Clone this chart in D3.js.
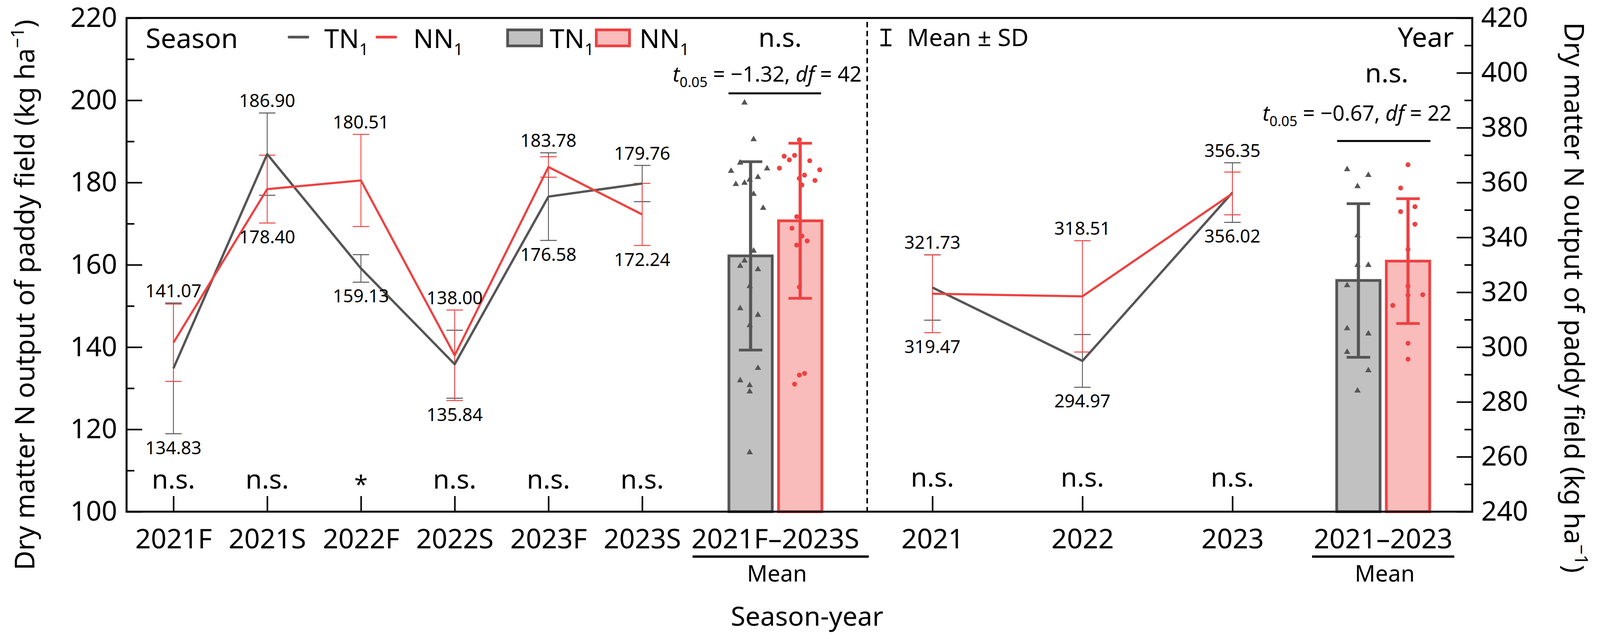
<!DOCTYPE html>
<html><head><meta charset="utf-8">
<script src="https://cdn.jsdelivr.net/npm/d3@7/dist/d3.min.js"></script>
<style>body{margin:0;background:#fff}svg{display:block}text{font-family:"Noto Sans",sans-serif;fill:#000}</style>
</head><body>
<svg id="c" width="4097" height="1636"></svg>
<script>
// ---------- DATA ----------
const seasons = ["2021F","2021S","2022F","2022S","2023F","2023S"];
const seasonTN = [134.83,186.90,159.13,135.84,176.58,179.76];
const seasonNN = [141.07,178.40,180.51,138.00,183.78,172.24];
const seasonTNsd = [15.9,10.0,3.35,8.25,10.65,4.4];
const seasonNNsd = [9.4,8.25,11.2,11.0,2.5,7.55];
const seasonSig = ["n.s.","n.s.","*","n.s.","n.s.","n.s."];

const years = ["2021","2022","2023"];
const yearTN = [321.73,294.97,356.35];
const yearNN = [319.47,318.51,356.02];
const yearTNsd = [11.9,9.6,10.85];
const yearNNsd = [14.2,20.3,7.8];
const yearSig = ["n.s.","n.s.","n.s."];

const treatments = ["TN1","NN1"];
const seasonMeanLabel = "2021F\u20132023S";
const yearMeanLabel = "2021\u20132023";
const seasonMean = [162.17,170.70];
const seasonMeanSD = [22.9,18.85];
const yearMean = [324.3,331.35];
const yearMeanSD = [28.0,22.75];

const seasonTNpts = [199.4,190.5,184.8,182.8,183.4,181.3,179.6,179.9,180.7,177.2,173.8,163.4,161.0,159.7,158.9,154.8,149.4,147.8,145.3,134.9,131.9,130.7,129.2,114.4];
const seasonNNpts = [190.4,186.4,185.5,186.6,185.3,183.5,183.1,181.8,181.0,180.5,179.4,171.7,168.9,167.0,165.8,164.8,154.6,133.2,133.6,131.0];
const yearTNpts = [364.8,362.7,358.6,340.7,329.9,329.9,322.5,306.8,304.9,298.2,291.5,284.1];
const yearNNpts = [366.5,358.0,351.2,349.4,344.8,335.6,322.2,318.9,319.1,315.2,301.4,295.6];

const leftTicks = [100,120,140,160,180,200,220];
const rightTicks = [240,260,280,300,320,340,360,380,400,420];

// ---------- LAYOUT (jitter as fraction of bar width) ----------
const seasonTNjit = [-0.14,0.07,-0.24,-0.45,0.38,0.17,-0.34,-0.14,-0.02,0.07,0.29,0.07,-0.14,-0.24,0.17,-0.02,-0.24,0.17,-0.02,0.17,-0.24,-0.02,-0.02,-0.02];
const seasonNNjit = [-0.02,-0.37,-0.25,-0.13,0.22,-0.48,0.45,0.10,-0.02,0.34,0.04,-0.08,-0.19,0.04,0.16,-0.08,-0.02,-0.02,0.10,-0.13];
const yearTNjit = [-0.26,0.23,-0.02,-0.02,-0.02,0.23,-0.26,-0.26,0.23,-0.26,0.23,-0.02];
const yearNNjit = [0,-0.17,0.16,-0.17,0.16,0,0,0,0.34,-0.35,0,0];

const L=324, R=3769, T=46, B=1310;
const GRAY="#555555", RED="#EE4141", GRAYFILL="#C1C1C1", REDFILL="#FABBBB";

const svg = d3.select("#c");
const yL = d3.scaleLinear([100,220],[B,T]);
const yR = d3.scaleLinear([240,420],[B,T]);
const xS = d3.scalePoint(seasons,[444,1644]);
const xY = d3.scalePoint(years,[2387,3155]);
const meanSeasonX = 1985, meanYearX = 3541;
const bandS = d3.scaleBand(treatments,[meanSeasonX-127,meanSeasonX+127]).paddingInner(0.126).paddingOuter(0.063);
const bandY = d3.scaleBand(treatments,[meanYearX-127,meanYearX+127]).paddingInner(0.126).paddingOuter(0.063);

// ---------- AXES ----------
function styleAxis(g){g.select(".domain").remove();g.selectAll("line").attr("stroke","#000").attr("stroke-width",4);
  g.selectAll("text").attr("font-size",70).style("font-family","'Noto Sans',sans-serif");}
svg.append("g").attr("transform",`translate(${L},0)`)
  .call(d3.axisLeft(yL).tickValues(leftTicks).tickSize(-40).tickPadding(24).tickFormat(d3.format("d"))).call(styleAxis);
svg.append("g").attr("transform",`translate(${L},0)`)
  .call(d3.axisLeft(yL).tickValues(d3.range(110,220,20)).tickSize(-20).tickFormat("")).call(styleAxis);
svg.append("g").attr("transform",`translate(${R},0)`)
  .call(d3.axisRight(yR).tickValues(rightTicks).tickSize(-40).tickPadding(23).tickFormat(d3.format("d"))).call(styleAxis);
svg.append("g").attr("transform",`translate(${R},0)`)
  .call(d3.axisRight(yR).tickValues(d3.range(250,420,20)).tickSize(-20).tickFormat("")).call(styleAxis);
svg.append("g").attr("transform",`translate(0,${B})`)
  .call(d3.axisBottom(xS).tickSize(-40).tickPadding(44)).call(styleAxis);
svg.append("g").attr("transform",`translate(0,${B})`)
  .call(d3.axisBottom(xY).tickSize(-40).tickPadding(44)).call(styleAxis);

// ---------- BARS ----------
function barGroup(band, yS, means, sds, ptsArr, jitArr){
  const g = svg.append("g");
  treatments.forEach((t,i)=>{
    const x0 = band(t), bw = band.bandwidth();
    g.append("rect").attr("x",x0).attr("y",yS(means[i])).attr("width",bw).attr("height",B-yS(means[i]))
      .attr("fill",i?REDFILL:GRAYFILL).attr("stroke",i?RED:GRAY).attr("stroke-width",7);
  });
  treatments.forEach((t,i)=>{
    const bw = band.bandwidth(), cx = band(t)+bw/2, col = i?RED:GRAY;
    g.append("line").attr("x1",cx).attr("x2",cx).attr("y1",yS(means[i]+sds[i])).attr("y2",yS(means[i]-sds[i])).attr("stroke",col).attr("stroke-width",8);
    [means[i]+sds[i],means[i]-sds[i]].forEach(v=>g.append("line").attr("x1",cx-30).attr("x2",cx+30).attr("y1",yS(v)).attr("y2",yS(v)).attr("stroke",col).attr("stroke-width",7));
  });
  treatments.forEach((t,i)=>{
    const bw = band.bandwidth(), cx = band(t)+bw/2;
    g.selectAll(null).data(ptsArr[i]).enter().append("path")
      .attr("d", d3.symbol(i?d3.symbolCircle:d3.symbolTriangle, i?125:115))
      .attr("transform",(d,k)=>`translate(${cx+jitArr[i][k]*bw},${yS(d)})`)
      .attr("fill",i?RED:GRAY);
  });
}
barGroup(bandS,yL,seasonMean,seasonMeanSD,[seasonTNpts,seasonNNpts],[seasonTNjit,seasonNNjit]);
barGroup(bandY,yR,yearMean,yearMeanSD,[yearTNpts,yearNNpts],[yearTNjit,yearNNjit]);

// ---------- LINES WITH ERROR BARS ----------
function lineSection(cats, xs, yS, tn, nn, tnsd, nnsd){
  const g = svg.append("g");
  [[tn,tnsd,GRAY],[nn,nnsd,RED]].forEach(([v,sd,col])=>{
    cats.forEach((c,i)=>{
      const x = xs(c);
      g.append("line").attr("x1",x).attr("x2",x).attr("y1",yS(v[i]+sd[i])).attr("y2",yS(v[i]-sd[i])).attr("stroke",col).attr("stroke-width",2.2);
      [v[i]+sd[i],v[i]-sd[i]].forEach(e=>g.append("line").attr("x1",x-21).attr("x2",x+21).attr("y1",yS(e)).attr("y2",yS(e)).attr("stroke",col).attr("stroke-width",2.5));
    });
  });
  [[tn,GRAY,6],[nn,RED,5.5]].forEach(([v,col,w])=>{
    g.append("path").datum(cats.map((c,i)=>[xs(c),yS(v[i])]))
      .attr("d",d3.line()).attr("fill","none").attr("stroke",col).attr("stroke-width",w).attr("stroke-linejoin","round");
  });
  cats.forEach((c,i)=>{
    const x = xs(c);
    const top = Math.min(yS(tn[i]+tnsd[i]),yS(nn[i]+nnsd[i]));
    const bot = Math.max(yS(tn[i]-tnsd[i]),yS(nn[i]-nnsd[i]));
    const hi = Math.max(tn[i],nn[i]), lo = Math.min(tn[i],nn[i]);
    g.append("text").attr("x",x).attr("y",top-15).attr("text-anchor","middle").attr("font-size",46).text(hi.toFixed(2));
    g.append("text").attr("x",x).attr("y",bot+52).attr("text-anchor","middle").attr("font-size",46).text(lo.toFixed(2));
  });
}
lineSection(seasons,xS,yL,seasonTN,seasonNN,seasonTNsd,seasonNNsd);
lineSection(years,xY,yR,yearTN,yearNN,yearTNsd,yearNNsd);

// significance row
seasons.forEach((c,i)=>svg.append("text").attr("x",xS(c)).attr("y",seasonSig[i]==="*"?1262:1251).attr("text-anchor","middle").attr("font-size",seasonSig[i]==="*"?62:68).text(seasonSig[i]));
years.forEach((c,i)=>svg.append("text").attr("x",xY(c)).attr("y",1246).attr("text-anchor","middle").attr("font-size",68).text(yearSig[i]));

// ---------- FRAME ----------
svg.append("path").attr("d",`M${L},${T}H${R}V${B}H${L}Z`).attr("fill","none").attr("stroke","#000").attr("stroke-width",5);
svg.append("line").attr("x1",2220).attr("x2",2220).attr("y1",T+10).attr("y2",B).attr("stroke","#000").attr("stroke-width",4).attr("stroke-dasharray","14,9");

// ---------- MEAN CATEGORY LABELS ----------
[[meanSeasonX,seasonMeanLabel,1773,2224],[meanYearX,yearMeanLabel,3359,3723]].forEach(([x,lab,a,b])=>{
  svg.append("text").attr("x",x).attr("y",1404).attr("text-anchor","middle").attr("font-size",70).text(lab);
  svg.append("line").attr("x1",a).attr("x2",b).attr("y1",1425).attr("y2",1425).attr("stroke","#000").attr("stroke-width",6);
  svg.append("text").attr("x",x+4).attr("y",1489).attr("text-anchor","middle").attr("font-size",58).text("Mean");
});
svg.append("text").attr("x",2066).attr("y",1602).attr("text-anchor","middle").attr("font-size",68).text("Season-year");

// ---------- AXIS TITLES ----------
function yTitle(x,y,rot){
  const fs = 66;
  const t = svg.append("text").attr("transform",`translate(${x},${y}) rotate(${rot})`).attr("text-anchor","middle").attr("font-size",fs);
  t.append("tspan").text("Dry matter N output of paddy field (kg ha");
  t.append("tspan").attr("class","sup").attr("dy",-26).text("\u22121");
  t.append("tspan").attr("class","cl").attr("dy",26).text(")");
  t.select(".sup").attr("font-size",44);
  const len = t.node().getComputedTextLength();
  const k = 1410/len;
  t.attr("font-size",fs*k);
  t.select(".sup").attr("font-size",44*k).attr("dy",-26*k);
  t.select(".cl").attr("dy",26*k);
  return t;
}
yTitle(88,755,-90);
yTitle(4005,762,90);

// ---------- LEGEND & ANNOTATIONS ----------
svg.append("text").attr("x",373).attr("y",123).attr("font-size",70).text("Season");
function sub(x,y,main,s,size){const t=svg.append("text").attr("x",x).attr("y",y).attr("font-size",size);
  t.append("tspan").text(main);t.append("tspan").attr("font-size",size*0.62).attr("dy",size*0.26).text(s);return t;}
svg.append("line").attr("x1",740).attr("x2",788).attr("y1",95).attr("y2",95).attr("stroke",GRAY).attr("stroke-width",7).attr("stroke-linecap","round");
sub(830,123,"TN","1",68);
svg.append("line").attr("x1",965).attr("x2",1013).attr("y1",95).attr("y2",95).attr("stroke",RED).attr("stroke-width",7).attr("stroke-linecap","round");
sub(1058,123,"NN","1",68);
svg.append("rect").attr("x",1299.5).attr("y",76.5).attr("width",87).attr("height",41).attr("fill",GRAYFILL).attr("stroke",GRAY).attr("stroke-width",7);
sub(1407,123,"TN","1",68);
svg.append("rect").attr("x",1526.5).attr("y",76.5).attr("width",85).attr("height",41).attr("fill",REDFILL).attr("stroke",RED).attr("stroke-width",7);
sub(1637,123,"NN","1",68);

svg.append("text").attr("x",1997).attr("y",120).attr("text-anchor","middle").attr("font-size",68).text("n.s.");
svg.append("text").attr("x",3550).attr("y",211).attr("text-anchor","middle").attr("font-size",68).text("n.s.");

function tText(xEnd,y,val,df){
  const t = svg.append("text").attr("x",xEnd).attr("y",y).attr("text-anchor","end").attr("font-size",54);
  t.append("tspan").attr("font-style","italic").text("t");
  t.append("tspan").attr("font-size",36).attr("dy",14).text("0.05");
  t.append("tspan").attr("dy",-14).text(" = \u2212"+val+", ");
  t.append("tspan").attr("font-style","italic").text("df");
  t.append("tspan").text(" = "+df);
}
tText(2206,209,"1.32",42);
tText(3716,309,"0.67",22);
svg.append("line").attr("x1",1865).attr("x2",2102).attr("y1",239).attr("y2",239).attr("stroke","#000").attr("stroke-width",5);
svg.append("line").attr("x1",3423).attr("x2",3662).attr("y1",361).attr("y2",361).attr("stroke","#000").attr("stroke-width",5);

// Mean ± SD legend icon
svg.append("path").attr("d","M2254,76H2282M2268,76V116M2254,116H2282").attr("stroke","#000").attr("stroke-width",5).attr("fill","none");
svg.append("text").attr("x",2322).attr("y",118).attr("font-size",62).text("Mean \u00B1 SD");
svg.append("text").attr("x",3722).attr("y",120).attr("text-anchor","end").attr("font-size",70).text("Year");
</script>
</body></html>
